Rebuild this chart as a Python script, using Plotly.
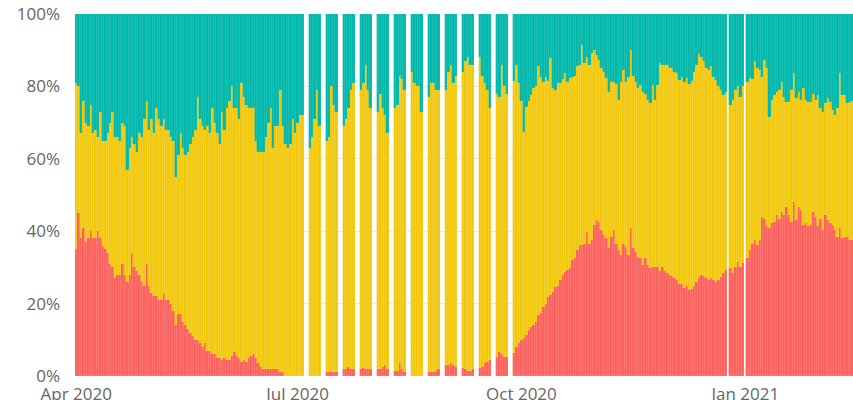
import pandas as pd
import plotly.graph_objects as go

# daily shares (%), Apr 1 2020 -> Feb 14 2021
# weekends between Jul 4 and Sep 27 and the two holidays have no data
first_day = "2020-04-01"
last_day = "2021-02-14"
holidays = ["2020-12-25", "2021-01-01"]

# bottom series (red), one value per reported day
red_share = [
    # Apr 1 - May 11
    35, 45, 38, 41, 37, 38, 40, 38, 38, 40, 38, 36, 35, 34, 31, 30, 27, 28, 28, 31,
    28, 26, 28, 34, 30, 29, 28, 26, 25, 31, 25, 23, 22, 22, 21, 21, 23, 21, 21, 20, 18,
    # May 12 - Jun 20
    14, 17, 17, 15, 14, 13, 12, 11, 10, 10, 9, 8, 9, 7, 7, 6, 6, 5, 5, 4.5,
    5, 4.5, 4.5, 5.5, 6.5, 5.5, 5, 4, 4.5, 4, 5, 5.5, 6, 5, 3.5, 2.5, 2, 2, 2, 2,
    # Jun 21 - Jul 3
    2, 2, 2, 1.2, 1.2, 0, 0, 0, 0, 0, 0, 0, 0,
    # weekdays Jul 6 - Sep 25
    0, 0, 0, 0, 0,
    1, 1, 1.2, 1, 1,
    1.8, 2, 2.6, 2, 2,
    2, 2.2, 2, 2, 2,
    2, 2, 2.6, 3, 2,
    1.5, 1.5, 3.5, 2, 1.2,
    0, 0, 0, 0, 0,
    1, 1, 1, 1.5, 2,
    3, 3, 3.5, 3, 2.5,
    2.2, 2, 1.5, 1.5, 1.8,
    2.1, 2.6, 3.5, 4, 4.4,
    5.3, 6.7, 6, 5.3, 5.3,
    # Sep 28 - Oct 19
    6.3, 8, 9, 10, 10.4, 11.3, 12.7, 13.6, 14.1, 15, 16.9, 17.3, 19.2, 20, 21.9, 22.4,
    23.3, 24.7, 25, 26.5, 28, 28.8,
    # Oct 20 - Nov 27
    29.3, 29.7, 32, 32.5, 34.8, 36.2, 36.2, 36.6, 39.9, 36.6, 37.6, 41.7, 43.1, 42.6,
    40.3, 39, 38, 35.3, 38.5, 40.3, 36.6, 34.8, 33.4, 36.6, 35.7, 33.4, 40.8, 35.3,
    34.3, 33, 32.5, 30.7, 32.5, 30.7, 29.7, 30.2, 30.2, 30, 29,
    # Nov 28 - Jan 6
    30, 29, 28.5, 28, 27.5, 27, 26.5, 25.5, 25.5, 24.2, 25, 23.8, 24, 25, 26, 27, 28,
    27.5, 27, 26.5, 27, 26.5, 26, 26.5, 27.4, 28.4, 29.3,
    29.7, 28.4, 30.2, 31.6, 30.2,
    31.1, 32.5, 34.8, 36.6, 37.6, 36.2,
    # Jan 7 - Feb 14
    37.6, 44, 43.5, 41.3, 40.8, 42.2, 42.6, 44.5, 43.5, 45.4, 44.5, 46.8, 44.5, 42.6,
    48.2, 43.1, 46.8, 45.9, 41.7, 42.2, 41.3, 41.7, 45.4, 44, 41.3, 43.5, 40.3, 44.5,
    43.1, 42.2, 41.7, 40.3, 38.5, 40.8, 38, 38.5, 38.5, 37.6, 37.6,
]

# top edge of the yellow band (red + yellow), same days
red_yellow_share = [
    # Apr 1 - May 11
    81, 80, 67, 76, 70, 69, 75, 67, 68, 66, 73, 65, 65, 67, 70, 73, 66, 66, 65, 70,
    69, 57, 63, 66, 64, 62, 67, 66, 71, 76, 68, 71, 67, 74, 71, 69, 71, 68, 68, 66, 65,
    # May 12 - Jun 20
    55, 61, 67, 63, 61, 62, 64, 66, 68, 77, 71, 69, 68, 69, 67, 74, 70, 67, 64, 73,
    68, 74, 76, 80, 74, 74, 71, 81, 77, 75, 74, 74, 74, 65, 62, 62, 62, 66, 70, 74,
    # Jun 21 - Jul 3
    63, 69, 69, 79, 69, 64, 63, 64, 71, 67, 70, 72, 72,
    # weekdays Jul 6 - Sep 25
    63, 66, 71, 79, 69,
    65, 66, 80, 75, 73,
    69, 71, 74, 79, 81,
    79, 81, 86, 79, 74,
    73, 78, 74, 72, 67,
    74, 75, 83, 82, 79,
    84, 81, 80, 80, 73,
    77, 81, 81, 79, 79,
    79, 84, 86, 81, 83,
    84, 87, 88, 86, 86,
    88, 83, 81, 79, 74,
    78, 77, 86, 80, 78,
    # Sep 28 - Oct 19
    81.5, 86, 81, 76, 67.5, 74.4, 76, 77.6, 79.5, 80, 85.5, 82.7, 81.3, 82.7, 81.5,
    87.8, 79.5, 79, 81, 81, 82, 83.6,
    # Oct 20 - Nov 27
    81.3, 82.2, 82.7, 83, 85.5, 86, 91.4, 86.4, 88.2, 86, 89.1, 90, 88.7, 87.3, 85,
    84, 82.2, 78.5, 81.3, 81.3, 80.8, 76.2, 81.3, 84.5, 81.3, 82.7, 90, 83, 81.3,
    79.5, 80.4, 78.5, 78, 76.2, 75.3, 80.4, 76.2, 80.4, 86.4,
    # Nov 28 - Jan 6
    86, 86, 86, 85, 85, 84, 83.6, 81.8, 82.7, 81.3, 82.2, 80.8, 81.5, 84, 86, 89, 88,
    87, 85, 84.5, 85.5, 82.7, 81.8, 80, 79, 77.6, 78.5,
    74.9, 76.2, 79, 80, 77.2,
    80, 81.3, 82.2, 82, 87, 85,
    # Jan 7 - Feb 14
    84.5, 82.7, 87.3, 85, 71.6, 76.2, 77.6, 78.5, 79, 81.3, 77.2, 75.8, 75.8, 79,
    83.6, 76.7, 78.5, 76.2, 79.5, 76.2, 75.8, 75.8, 78, 76.2, 77.6, 74, 73, 75.3,
    76.7, 75.8, 73.5, 72.1, 74, 83.6, 77.6, 77.6, 75.3, 75.8, 76,
]

tick_dates = ["2020-04-01", "2020-07-01", "2020-10-01", "2021-01-01"]
tick_labels = ["Apr 2020", "Jul 2020", "Oct 2020", "Jan 2021"]

# build the list of reported days
days = pd.date_range(first_day, last_day, freq="D")
no_weekend = (days >= "2020-07-04") & (days <= "2020-09-27") & (days.dayofweek >= 5)
days = days[~no_weekend & ~days.isin(pd.to_datetime(holidays))]

df = pd.DataFrame({"day": days, "red": red_share, "top": red_yellow_share})
df["yellow"] = df["top"] - df["red"]
df["teal"] = 100 - df["top"]

# (series, fill, slightly lighter edge for the faint striping between days)
series = [
    ("red", "#FD625E", "#FE7F7B"),
    ("yellow", "#F2C80F", "#F5D43F"),
    ("teal", "#01B8AA", "#2EC4B8"),
]

fig = go.Figure()
for name, color, edge in series:
    fig.add_trace(go.Bar(
        x=df["day"], y=df[name], name=name,
        marker_color=color, marker_line_color=edge, marker_line_width=0.4,
    ))

fig.update_layout(
    width=853, height=400,
    barmode="stack", bargap=0,
    showlegend=False,
    plot_bgcolor="white", paper_bgcolor="white",
    margin=dict(l=75, r=0, t=14, b=24),
    font=dict(family="Open Sans, DejaVu Sans, sans-serif", size=17, color="#666666"),
)
fig.update_xaxes(
    type="date",
    range=["2020-03-31 12:00", "2021-02-14 07:00"],
    tickvals=tick_dates, ticktext=tick_labels,
    showgrid=False, zeroline=False, showline=False,
    ticklabelstandoff=6, automargin=False,
)
fig.update_yaxes(
    range=[0, 100], dtick=20, ticksuffix="%",
    showgrid=True, gridcolor="#E9E9E9", zeroline=False, showline=False,
    ticklabelstandoff=14, automargin=False, ticklabeloverflow="allow",
)

# drop the default page margin so the chart sits at the window's corner
fig.write_html(
    "out.html",
    config={"displayModeBar": False},
    post_script="document.body.style.margin = '0';",
)
